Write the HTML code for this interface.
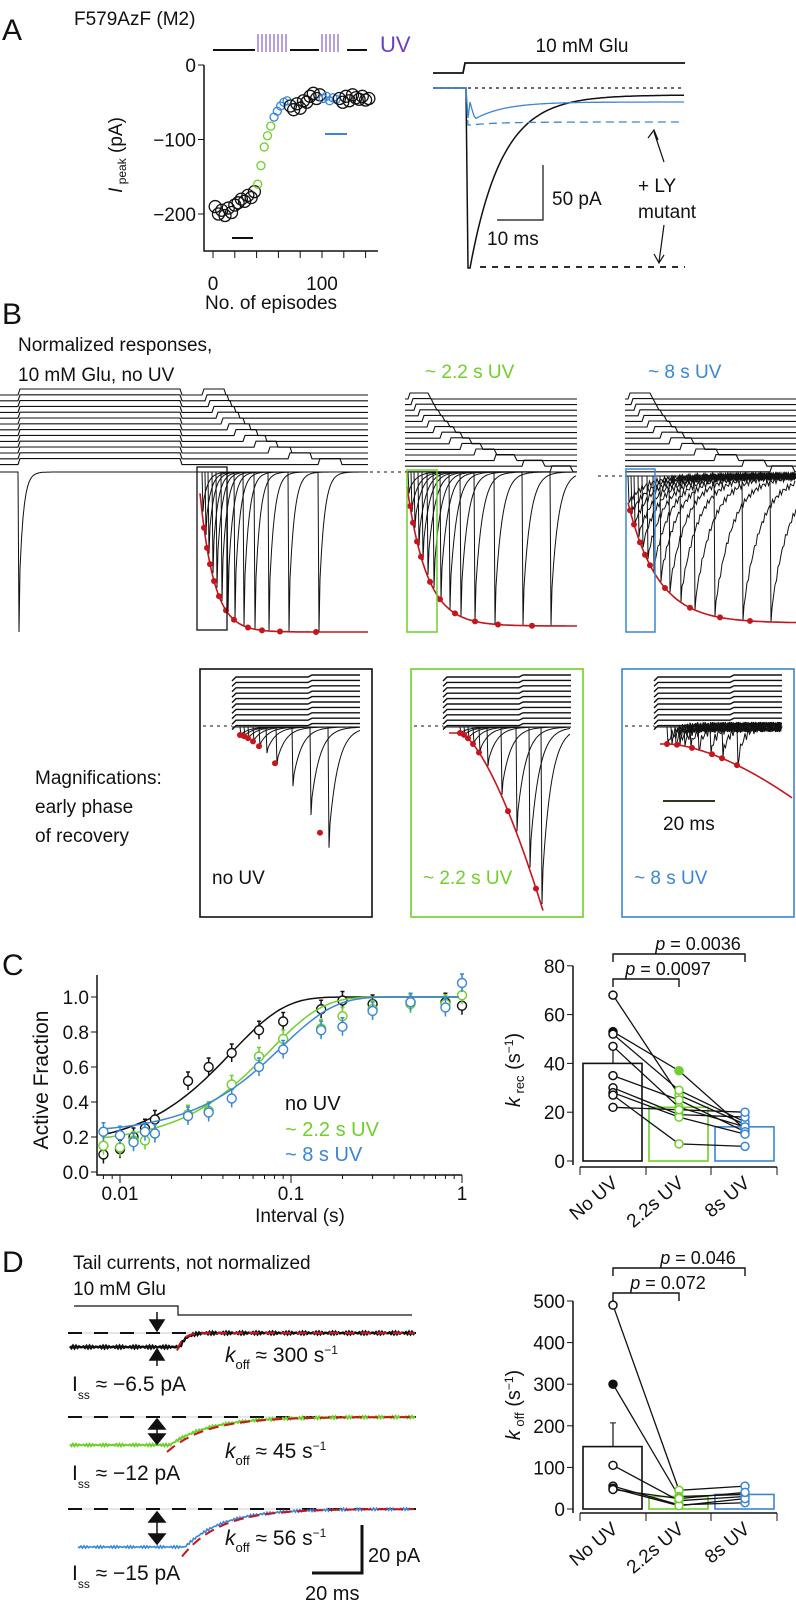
<!DOCTYPE html>
<html><head><meta charset="utf-8"><style>
html,body{margin:0;padding:0;background:#fff;}
svg{display:block;font-family:"Liberation Sans",sans-serif;}
text{fill:#111;}
</style></head><body>
<svg id="fig" width="796" height="1605" viewBox="0 0 796 1605" xmlns="http://www.w3.org/2000/svg">
<g id="A"></g>
<g id="B"></g>
<g id="C"></g>
<g id="D"></g>
</svg>
<script>
// ---------- Panel A data ----------
const aEpisodes = [2,5,8,11,14,17,20,23,26,29,32,35,38, 41,44,47,50,53, 56,59,62,65,68, 71,74,77,80,83,86,89,92,95,98, 101,104,107,110,113, 116,119,122,125,128,131,134,137,140,143];
const aPeak = [-190,-200,-195,-202,-192,-198,-188,-185,-180,-183,-175,-178,-170, -160,-135,-110,-95,-82, -70,-62,-55,-50,-48, -55,-60,-52,-58,-48,-50,-42,-38,-45,-40, -45,-42,-48,-44,-46, -45,-50,-42,-48,-40,-44,-46,-42,-47,-45];
const aPhase = ['k','k','k','k','k','k','k','k','k','k','k','k','k','g','g','g','g','g','b','b','b','b','b','k','k','k','k','k','k','k','k','k','k','b','b','b','b','b','k','k','k','k','k','k','k','k','k','k'];
const aYTicks = [0,-100,-200];
const aXTicks = [0,100];
// ---------- Panel C data ----------
const cIntervals = [0.008,0.01,0.012,0.014,0.016,0.025,0.033,0.045,0.065,0.09,0.15,0.2,0.3,0.5,0.8,1.0];
const cNoUV = [0.10,0.13,0.20,0.25,0.30,0.52,0.60,0.68,0.81,0.86,0.93,0.98,0.96,0.97,0.97,0.95];
const cUV22 = [0.15,0.14,0.18,0.18,0.22,0.33,0.35,0.50,0.66,0.76,0.82,0.89,0.93,0.96,0.96,1.01];
const cUV8 = [0.23,0.21,0.17,0.23,0.22,0.32,0.34,0.42,0.60,0.70,0.81,0.83,0.92,0.97,0.94,1.08];
const cFitTau = [0.045,0.075,0.088];
const cFitA0 = [0.14,0.16,0.22];
const cYTicks = [0,0.2,0.4,0.6,0.8,1.0];
const cXTicks = [0.01,0.1,1];
const cXTickLabels = ['0.01','0.1','1'];
const kCats = ['No UV','2.2s UV','8s UV'];
const kBars = [40,22,14];
const kNoUV = [68,53,52,47,35,30,28,27,22];
const kUV22 = [27,37,29,22,25,19,18,7,21];
const kUV8 = [15,13,16,14,12,18,11,6,20];
const kYTicks = [0,20,40,60,80];
// ---------- Panel D data ----------
const offBars = [150,30,35];
const offNoUV = [490,300,105,55,50,47];
const offUV22 = [45,30,20,10,8,25];
const offUV8 = [55,35,30,15,25,40];
const offYTicks = [0,100,200,300,400,500];

const NS='http://www.w3.org/2000/svg';
function el(parent, tag, attrs, txt){
  const e=document.createElementNS(NS,tag);
  for(const k in attrs) e.setAttribute(k,attrs[k]);
  if(txt!==undefined) e.textContent=txt;
  parent.appendChild(e); return e;
}
const K='#111', G='#6fcf2b', Bl='#3a86d6', R='#c4161c', P='#6a3fc4';
const A=document.getElementById('A'), B=document.getElementById('B'), C=document.getElementById('C'), D=document.getElementById('D');
let t;
// ================= PANEL A =================
t=el(A,'text',{x:2,y:40,'font-size':30});t.textContent='A';

t=el(A,'text',{x:74,y:25,'font-size':19},'F579AzF (M2)');

let uv=el(A,'g',{});

el(uv,'path',{d:'M213 50H255M290 50H319M347 50H367',stroke:K,'stroke-width':2});
for(let x=258;x<=288;x+=4) el(uv,'line',{x1:x,y1:34,x2:x,y2:52,stroke:P,'stroke-width':1});
for(let x=322;x<=341;x+=4) el(uv,'line',{x1:x,y1:34,x2:x,y2:52,stroke:P,'stroke-width':1});
t=el(A,'text',{x:380,y:52,'font-size':22,style:'fill:'+P},'UV');

const ax=e=>213+e*1.09, ay=v=>65-v*0.745;
el(A,'path',{d:'M204 65V251H378',stroke:K,fill:'none','stroke-width':1.5});
aYTicks.forEach(v=>{el(A,'line',{x1:198,y1:ay(v),x2:204,y2:ay(v),stroke:K});
 const tt=el(A,'text',{x:196,y:ay(v)+7,'font-size':19,'text-anchor':'end'},v===0?'0':'\u2212'+(-v));
 });
for(let e=0;e<=140;e+=20) el(A,'line',{x1:ax(e),y1:251,x2:ax(e),y2:258,stroke:K});
aXTicks.forEach(v=>{const tt=el(A,'text',{x:ax(v),y:290,'font-size':19,'text-anchor':'middle'},String(v));
 });
t=el(A,'text',{transform:'translate(122,155) rotate(-90)','font-size':19,'text-anchor':'middle'});
t.innerHTML='<tspan font-style="italic">I</tspan><tspan font-size="12" dy="4"> peak</tspan><tspan dy="-4"> (pA)</tspan>';

el(A,'line',{x1:232,y1:238,x2:253,y2:238,stroke:K,'stroke-width':2});
el(A,'line',{x1:325,y1:134,x2:347,y2:134,stroke:Bl,'stroke-width':2});
aEpisodes.forEach((e,i)=>{
  const col=aPhase[i]==='k'?K:(aPhase[i]==='g'?G:Bl);
  const c=el(A,'circle',{cx:ax(e),cy:ay(aPeak[i]),r:aPhase[i]==='k'?6:4,fill:'none',stroke:col,'stroke-width':1.3});
  
});
let tr=el(A,'g',{});

t=el(A,'text',{x:582,y:52,'font-size':19,'text-anchor':'middle'},'10 mM Glu');

el(tr,'path',{d:'M433 73H463L465 63H685',stroke:K,fill:'none','stroke-width':1.8});
el(tr,'line',{x1:433,y1:88,x2:685,y2:88,stroke:K,'stroke-dasharray':'3,4','stroke-width':1.3});
let dk='M433 88H466L468 268', db='M433 88H466L468 118', dd='M433 88H466L468 125';
for(let x=470;x<=685;x+=2){const s=x-470;
 dk+=' L'+x+' '+(95+173*Math.exp(-s/32)).toFixed(1);
 db+=' L'+x+' '+(102+20*Math.exp(-s/30)*(s<5?s/5:1)).toFixed(1);
 dd+=' L'+x+' '+(122+3*Math.exp(-s/30)).toFixed(1);}
el(tr,'path',{d:dk,stroke:K,fill:'none','stroke-width':1.5});
el(tr,'path',{d:db,stroke:Bl,fill:'none','stroke-width':1.3});
el(tr,'path',{d:dd,stroke:Bl,fill:'none','stroke-width':1.3,'stroke-dasharray':'8,5'});
el(tr,'line',{x1:480,y1:267,x2:685,y2:267,stroke:K,'stroke-dasharray':'6,6','stroke-width':1.8});
el(tr,'path',{d:'M543 165V220H497',stroke:K,fill:'none','stroke-width':1.2});
t=el(A,'text',{x:552,y:205,'font-size':19},'50 pA');
t=el(A,'text',{x:487,y:245,'font-size':19},'10 ms');
t=el(A,'text',{x:638,y:192,'font-size':19},'+ LY');
t=el(A,'text',{x:638,y:218,'font-size':19},'mutant');
el(tr,'path',{d:'M664 162L654 132M648 138L654 130L658 140',stroke:K,fill:'none','stroke-width':1.2});
el(tr,'path',{d:'M664 225L659 262M654 254L659 263L664 255',stroke:K,fill:'none','stroke-width':1.2});

// ================= PANEL B =================
t=el(B,'text',{x:2,y:324,'font-size':30},'B');
t=el(B,'text',{x:205,y:309,'font-size':19},'No. of episodes');
t=el(B,'text',{x:18,y:351,'font-size':19},'Normalized responses,');
t=el(B,'text',{x:18,y:381,'font-size':19},'10 mM Glu, no UV');
t=el(B,'text',{x:425,y:378,'font-size':19,style:'fill:'+G},'~ 2.2 s UV');
t=el(B,'text',{x:648,y:378,'font-size':19,style:'fill:'+Bl},'~ 8 s UV');
function stepLines(g,x0,x1,first,starts,top,sp,w){
  starts.forEach((s,j)=>{const y=top+j*sp;let d;
    if(first!==null) d='M'+x0+' '+(y+6)+'H'+first+'L'+(first+2)+' '+y+'H'+(x0+180)+'L'+(x0+182)+' '+(y+6)+'H'+s+'L'+(s+2)+' '+y+'H'+(s+w)+'L'+(s+w+2)+' '+(y+6)+'H'+x1;
    else d='M'+x0+' '+(y+6)+'H'+s+'L'+(s+2)+' '+y+'H'+(s+w)+'L'+(s+w+3)+' '+(y+6)+'H'+x1;
    el(g,'path',{d:d,stroke:K,fill:'none','stroke-width':1.1});});
}
function respGroup(g,x0,x1,base,starts,depth,tau,noise){
  starts.forEach((s,i)=>{let d='M'+x0+' '+base+'H'+s;const dp=depth(s);
    d+='L'+(s+1)+' '+dp;
    for(let x=s+2;x<=x1;x+=1.5){const n=noise?Math.sin(x*1.7+i*3)*noise:0;d+=' L'+x.toFixed(1)+' '+(base+(dp-base)*Math.exp(-(x-s)/tau)+n).toFixed(1);}
    el(g,'path',{d:d,stroke:K,fill:'none','stroke-width':1});});
}
function redFit(g,xs,x1,depth,dots){
  let d='';for(let x=xs;x<=x1;x+=2)d+=(d?' L':'M')+x+' '+depth(x).toFixed(1);
  el(g,'path',{d:d,stroke:R,fill:'none','stroke-width':1.6});
  dots.forEach(x=>el(g,'circle',{cx:x,cy:depth(x),r:3,fill:R}));
}
let g1=el(B,'g',{});
const s1=[202,205,208,212,216,221,227,234,243,254,268,288,318];
stepLines(g1,0,368,18,s1,389,5.8,22);
const dep1=x=>472+160*(1-Math.exp(-(x-198)/14));
respGroup(g1,0,368,472,[18],x=>632,4,0);
respGroup(g1,198,368,472,s1,dep1,5,0);
redFit(g1,200,368,dep1,[204,207,210,214,219,226,234,248,262,280,316]);
el(g1,'rect',{x:197,y:467,width:30,height:163,fill:'none',stroke:K,'stroke-width':1.3});
el(B,'line',{x1:370,y1:472,x2:404,y2:472,stroke:K,'stroke-dasharray':'3,4'});
let g2=el(B,'g',{});
const s2=[408,411,414,418,422,427,433,440,449,460,474,494,522,550];
stepLines(g2,405,577,null,s2,393,5.6,20);
const dep2=x=>472+154*(1-Math.exp(-(x-405)/20));
respGroup(g2,405,577,472,s2,dep2,7,0);
redFit(g2,407,577,dep2,[410,413,417,421,430,440,455,475,498,532]);
el(g2,'rect',{x:407,y:470,width:30,height:162,fill:'none',stroke:G,'stroke-width':1.5});
el(B,'line',{x1:598,y1:476,x2:625,y2:476,stroke:K,'stroke-dasharray':'3,4'});
let g3=el(B,'g',{});
const s3=[628,631,634,638,642,647,653,660,669,680,694,714,742,770];
stepLines(g3,625,796,null,s3,393,5.6,22);
const dep3=x=>490+133*(1-Math.exp(-(x-625)/30));
respGroup(g3,625,796,476,s3,dep3,18,3);
redFit(g3,628,796,dep3,[630,634,640,645,650,665,690,720,750]);
el(g3,'rect',{x:626,y:469,width:29,height:163,fill:'none',stroke:Bl,'stroke-width':1.5});
t=el(B,'text',{x:35,y:784,'font-size':19},'Magnifications:');
t=el(B,'text',{x:35,y:813,'font-size':19},'early phase');
t=el(B,'text',{x:35,y:842,'font-size':19},'of recovery');
function magBox(x0,col,name,label,depth,starts,dots,noise){
  const g=el(B,'g',{});
  el(g,'rect',{x:x0,y:669,width:172,height:248,fill:'none',stroke:col,'stroke-width':1.6});
  starts.forEach((s,j)=>{const y=677+j*5.4;
    el(g,'path',{d:'M'+(x0+32)+' '+(y+4)+'L'+(x0+36)+' '+y+'H'+(x0+108)+'L'+(x0+112)+' '+(y-2)+'H'+(x0+160),stroke:K,fill:'none','stroke-width':1.4});});
  el(g,'line',{x1:x0+3,y1:726,x2:x0+32,y2:726,stroke:K,'stroke-dasharray':'3,4'});
  respGroup(g,x0+32,x0+160,727,starts.map(s=>x0+s),x=>Math.min(depth(x),912),noise?6:9,noise);
  let d='';for(let x=x0+38;x<=x0+170;x+=2){const y=depth(x);if(y>915)break;d+=(d?' L':'M')+x+' '+y.toFixed(1);}
  el(g,'path',{d:d,stroke:R,fill:'none','stroke-width':1.6});
  dots.forEach(x=>el(g,'circle',{cx:x0+x,cy:depth(x0+x),r:3,fill:R}));
  const tt=el(g,'text',{x:x0+12,y:884,'font-size':19,style:'fill:'+col},label);
  
}
magBox(200,K,'mag-no-uv','no UV',x=>735+175*Math.pow((x-240)/118,1.5)*(x>240?1:0),[40,44,48,53,59,66,76,92,110,128],[40,44,48,53,59,75,120],0);
magBox(411,G,'mag-2s-uv','~ 2.2 s UV',x=>733+184*Math.pow(Math.max(0,x-460)/85,1.5),[49,53,57,62,68,76,90,105,118,130],[49,53,57,62,68,97,125],0);
magBox(622,Bl,'mag-8s-uv','~ 8 s UV',x=>744+56*Math.pow(Math.max(0,x-668)/127,1.6),[45,49,53,57,62,68,76,88,100,115],[45,55,70,90,100,115],5);
el(B,'line',{x1:663,y1:801,x2:715,y2:801,stroke:'#332', 'stroke-width':2});
t=el(B,'text',{x:663,y:830,'font-size':19},'20 ms');

// ================= PANEL C =================
t=el(C,'text',{x:2,y:975,'font-size':30},'C');
const cx=v=>120+171*Math.log10(v/0.01), cy=v=>1172-v*175;
el(C,'path',{d:'M97 975V1175H462',stroke:K,fill:'none','stroke-width':1.5});
cYTicks.forEach(v=>{el(C,'line',{x1:91,y1:cy(v),x2:97,y2:cy(v),stroke:K});
 const tt=el(C,'text',{x:89,y:cy(v)+7,'font-size':19,'text-anchor':'end'},v.toFixed(1));
 });
[0.008,0.009].concat([2,3,4,5,6,7,8,9].map(m=>m*0.01),[2,3,4,5,6,7,8,9].map(m=>m*0.1)).forEach(v=>el(C,'line',{x1:cx(v),y1:1175,x2:cx(v),y2:1179,stroke:K}));
cXTicks.forEach((v,i)=>{el(C,'line',{x1:cx(v),y1:1175,x2:cx(v),y2:1183,stroke:K});
 const tt=el(C,'text',{x:cx(v),y:1200,'font-size':19,'text-anchor':'middle'},cXTickLabels[i]);
 });
t=el(C,'text',{x:300,y:1222,'font-size':19,'text-anchor':'middle'},'Interval (s)');
t=el(C,'text',{transform:'translate(48,1080) rotate(-90)','font-size':21,'text-anchor':'middle'},'Active Fraction');
[[cNoUV,K],[cUV22,G],[cUV8,Bl]].forEach((s,si)=>{
  let d='';for(let lx=Math.log10(0.008);lx<=0;lx+=0.02){const v=Math.pow(10,lx);const y=cFitA0[si]+(1-cFitA0[si])*(1-Math.exp(-Math.pow(v/cFitTau[si],1.4)));d+=(d?' L':'M')+cx(v).toFixed(1)+' '+cy(y).toFixed(1);}
  const f=el(C,'path',{d:d,stroke:s[1],fill:'none','stroke-width':1.5});
  
  s[0].forEach((v,i)=>{const x=cx(cIntervals[i]),y=cy(v);
    el(C,'line',{x1:x,y1:y-9,x2:x,y2:y+9,stroke:s[1],'stroke-width':1.5});
    el(C,'line',{x1:x-2,y1:y-9,x2:x+2,y2:y-9,stroke:s[1],'stroke-width':1.5});
    const c=el(C,'circle',{cx:x,cy:y,r:4.5,fill:'#fff',stroke:s[1],'stroke-width':1.4});
    });
});
t=el(C,'text',{x:285,y:1110,'font-size':20},'no UV');
t=el(C,'text',{x:285,y:1136,'font-size':20,style:'fill:'+G},'~ 2.2 s UV');
t=el(C,'text',{x:285,y:1161,'font-size':20,style:'fill:'+Bl},'~ 8 s UV');
function pairedChart(g,yPix,ticks,bars,series,errTop,brk,ylab,axisY){
  const cols=[K,G,Bl], centers=[613,679,745];
  el(g,'path',{d:'M573 '+yPix(ticks[ticks.length-1])+'V'+(yPix(0)+4)+'M580 '+axisY+'H777',stroke:K,fill:'none','stroke-width':1.5});
  ticks.forEach(v=>{el(g,'line',{x1:567,y1:yPix(v),x2:573,y2:yPix(v),stroke:K});
    const tt=el(g,'text',{x:565,y:yPix(v)+7,'font-size':19,'text-anchor':'end'},String(v));
    });
  [580,646,711,777].forEach(x=>el(g,'line',{x1:x,y1:axisY,x2:x,y2:axisY+8,stroke:K}));
  bars.forEach((v,i)=>{const r=el(g,'rect',{x:centers[i]-30,y:yPix(v),width:59,height:yPix(0)-yPix(v),fill:'none',stroke:cols[i],'stroke-width':1.6});
    
    const lt=el(g,'text',{transform:'translate('+(centers[i]+6)+','+(axisY+18)+') rotate(-40)','font-size':19,'text-anchor':'end'},kCats[i]);
    });
  el(g,'line',{x1:centers[0],y1:yPix(bars[0]),x2:centers[0],y2:yPix(errTop),stroke:K,'stroke-width':1.2});
  el(g,'line',{x1:centers[0]-3,y1:yPix(errTop),x2:centers[0]+3,y2:yPix(errTop),stroke:K});
  series[0].forEach((v,i)=>{const p=el(g,'polyline',{points:centers[0]+','+yPix(v)+' '+centers[1]+','+yPix(series[1][i])+' '+centers[2]+','+yPix(series[2][i]),fill:'none',stroke:K,'stroke-width':1.3});
    });
  series.forEach((s,si)=>s.forEach((v,i)=>{const c=el(g,'circle',{cx:centers[si],cy:yPix(v),r:4,fill:i===1?cols[si]:'#fff',stroke:cols[si],'stroke-width':1.5});
    }));
  brk.forEach(b=>{el(g,'path',{d:'M'+centers[0]+' '+(b[0]+8)+'V'+b[0]+'H'+centers[b[1]]+'V'+(b[0]+8),stroke:K,fill:'none','stroke-width':1.4});
    const tt=el(g,'text',{x:b[3],y:b[0]-4,'font-size':18,'text-anchor':'middle'});
    tt.innerHTML='<tspan font-style="italic">p</tspan> = '+b[2];
    });
  const yl=el(g,'text',{transform:'translate(520,'+ylab[0]+') rotate(-90)','font-size':20,'text-anchor':'middle'});
  yl.innerHTML='<tspan font-style="italic">k</tspan><tspan font-size="13" dy="4"> '+ylab[1]+'</tspan><tspan dy="-4"> (s</tspan><tspan font-size="12" dy="-7">\u22121</tspan><tspan dy="7">)</tspan>';
  
}
let kg=el(C,'g',{});
pairedChart(kg,v=>1161-v*2.44,kYTicks,kBars,[kNoUV,kUV22,kUV8],47,[[954,2,'0.0036',698],[979,1,'0.0097',668]],[1070,'rec'],1167);

// ================= PANEL D =================
t=el(D,'text',{x:2,y:1272,'font-size':30},'D');
t=el(D,'text',{x:73,y:1269,'font-size':19},'Tail currents, not normalized');
t=el(D,'text',{x:73,y:1295,'font-size':19},'10 mM Glu');
let dtr=el(D,'g',{});
el(dtr,'path',{d:'M74 1306H178V1315H412',stroke:K,fill:'none','stroke-width':1.2});
function tail(base,ss,x0,xs,tau,col,w){
  el(dtr,'line',{x1:68,y1:base,x2:416,y2:base,stroke:'#ccc','stroke-width':1});
  el(dtr,'line',{x1:68,y1:base,x2:416,y2:base,stroke:K,'stroke-dasharray':'14,12','stroke-width':2});
  let d='';for(let x=x0;x<=415;x+=1.5){const y=x<xs?base+ss:base+ss*Math.exp(-(x-xs)/tau);d+=(d?' L':'M')+x+' '+(y+Math.sin(x*2.3)*1.2).toFixed(1);}
  el(dtr,'path',{d:d,stroke:col,fill:'none','stroke-width':w});
  let f='';for(let x=xs-3;x<=415;x+=2){const y=base+ss*1.25*Math.exp(-(x-xs+3)/tau);f+=(f?' L':'M')+x+' '+y.toFixed(1);}
  el(dtr,'path',{d:f,stroke:R,fill:'none','stroke-width':2,'stroke-dasharray':'10,6'});
}
tail(1333,14,70,180,6,K,2.5);
tail(1417,28,70,170,40,G,2);
tail(1509,38,78,185,38,Bl,1.6);
el(dtr,'path',{d:'M157 1312V1328M150 1320L157 1331L164 1320Z',stroke:K,fill:K,'stroke-width':1.5});
el(dtr,'path',{d:'M157 1366V1352M150 1360L157 1349L164 1360Z',stroke:K,fill:K,'stroke-width':1.5});
[[1419,1444],[1512,1544]].forEach(a=>el(dtr,'path',{d:'M157 '+(a[0]+8)+'V'+(a[1]-8)+'M149 '+(a[0]+10)+'L157 '+a[0]+'L165 '+(a[0]+10)+'ZM149 '+(a[1]-10)+'L157 '+a[1]+'L165 '+(a[1]-10)+'Z',stroke:K,fill:K,'stroke-width':1.5}));
function koff(y,val,name){const tt=el(D,'text',{x:225,y:y,'font-size':21});
  tt.innerHTML='<tspan font-style="italic">k</tspan><tspan font-size="13" dy="7">off</tspan><tspan dy="-7"> \u2248 '+val+' s</tspan><tspan font-size="12" dy="-8">\u22121</tspan>';
  }
function iss(y,val,name){const tt=el(D,'text',{x:72,y:y,'font-size':21});
  tt.innerHTML='I<tspan font-size="12" dy="8">ss</tspan><tspan dy="-8"> \u2248 \u2212'+val+' pA</tspan>';
  }
koff(1362,'300','koff-label-no-uv');koff(1458,'45','koff-label-2s');koff(1545,'56','koff-label-8s');
iss(1391,'6.5','iss-label-no-uv');iss(1480,'12','iss-label-2s');iss(1580,'15','iss-label-8s');
el(dtr,'path',{d:'M362 1525V1573H312',stroke:K,fill:'none','stroke-width':3});
t=el(D,'text',{x:368,y:1562,'font-size':20},'20 pA');
t=el(D,'text',{x:305,y:1600,'font-size':20},'20 ms');
let og=el(D,'g',{});
pairedChart(og,v=>1509-v*0.416,offYTicks,offBars,[offNoUV,offUV22,offUV8],207,[[1268,2,'0.046',698],[1293,1,'0.072',668]],[1405,'off'],1513);
</script>
</body></html>
